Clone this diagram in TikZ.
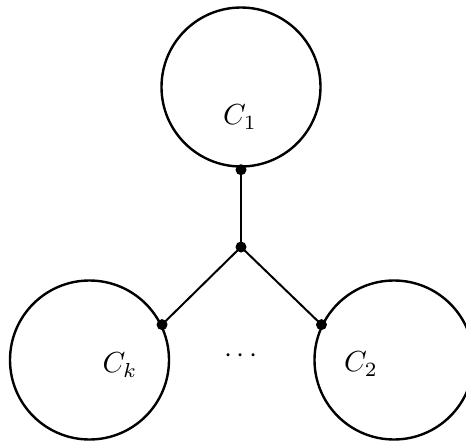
\documentclass[tikz,border=0pt]{standalone}
\usetikzlibrary{positioning}

\begin{document}
\begin{tikzpicture}[x=1pt, y=-1pt,
		comp/.style={circle, draw, line width=2.4pt, minimum size=159pt, inner sep=0pt},
		joint/.style={circle, fill, inner sep=0pt, minimum size=11pt},
		lab/.style={scale=2.9}]
			\useasboundingbox (0,0) rectangle (466,442);
			\node[comp] (c1) at (241,87) {};
			\node[comp] (ck) at (89.5,360) {};
			\node[comp] (c2) at (394,360) {};
			\node[lab] (l1) at (240,117) {$C_1$};
			\node[lab] (lk) at (120,365) {$C_k$};
			\node[lab] (l2) at (361,364) {$C_2$};
			\node[lab] (dots) at (241,356) {$\cdots$};
			\coordinate (top) at ([yshift=-2pt]c1.south);
			\coordinate (mid) at (241,247);
			\draw [line width=2pt] (top) -- (mid);
			\draw [line width=2pt] (mid) -- (ck.26);
			\draw [line width=2pt] (mid) -- (c2.154);
			\node[joint] (j1) at (top) {};
			\node[joint] (j0) at (mid) {};
			\node[joint] (jk) at (ck.26) {};
			\node[joint] (j2) at (c2.154) {};
		\end{tikzpicture}
\end{document}
